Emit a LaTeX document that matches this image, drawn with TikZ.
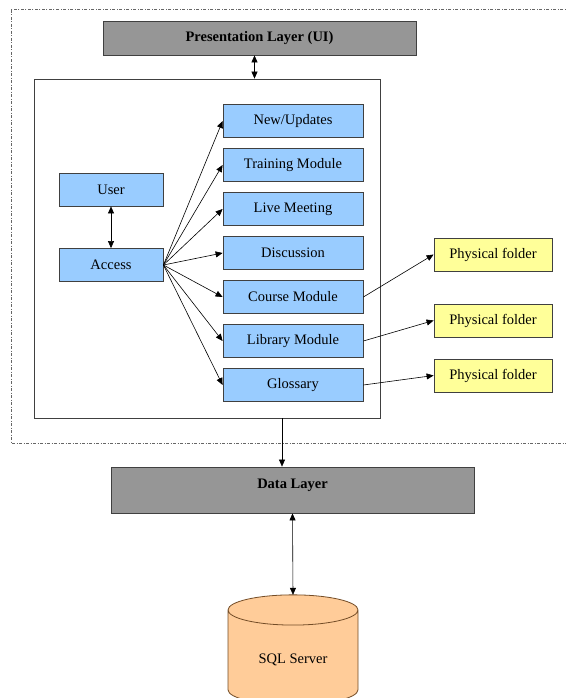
\documentclass[tikz,border=0pt]{standalone}
\usepackage{fontspec}
\setmainfont{Liberation Serif}
\usetikzlibrary{shapes.geometric,arrows.meta}
\definecolor{modblue}{HTML}{99CCFF}
\definecolor{folderyellow}{HTML}{FFFF99}
\definecolor{layergray}{HTML}{969696}
\definecolor{dbpeach}{HTML}{FFCC99}

\begin{document}
\begin{tikzpicture}[x=1pt,y=-1pt,>={Triangle[length=7pt,width=6pt]},semithick,node distance=44pt,
    box/.style={rectangle,draw=black!75,line width=0.8pt,font=\fontsize{14.5}{17}\selectfont},
    module/.style={box,fill=modblue,minimum width=140,minimum height=33},
    folder/.style={box,fill=folderyellow,minimum width=118,minimum height=33},
    layer/.style={box,fill=layergray,font=\fontsize{14.5}{17}\selectfont\bfseries}]

            \useasboundingbox (0,0) rectangle (565,698);

            % outer boundary
            \draw[black!60, dash pattern=on 3pt off 1.5pt on 1pt off 1.5pt] (570,9) -| (11,443) -- (570,443);

            \node[layer, minimum width=313, minimum height=34] (pl) at (259.5,38) {Presentation Layer (UI)};
            \node[draw=black!75, line width=0.8pt, minimum width=346, minimum height=339] (app) at (207,248.5) {};

            \node[module, minimum width=104] (user) at (111,189.5) {User};
            \node[module, minimum width=104] (access) at (111,265) {Access};

            \node[module] (m1) at (293,121) {New/Updates};
            \node[module] (m2) [below of = m1] {Training Module};
            \node[module] (m3) [below of = m2] {Live Meeting};
            \node[module] (m4) [below of = m3] {Discussion};
            \node[module] (m5) [below of = m4] {Course Module};
            \node[module] (m6) [below of = m5] {Library Module};
            \node[module] (m7) [below of = m6] {Glossary};

            \node[folder] (f1) at (493,254.5) {Physical folder};
            \node[folder] (f2) at (493,320.5) {Physical folder};
            \node[folder] (f3) at (493,375.5) {Physical folder};

            \node[layer, minimum width=363, minimum height=46, text height=10pt, text depth=14pt] (dl) at (292.5,490) {Data Layer};
            \node[cylinder, shape border rotate=90, aspect=0.4, draw=brown!60!black, line width=0.8pt, fill=dbpeach,
                  minimum width=130, minimum height=110, outer sep=0pt, font=\fontsize{14.5}{17}\selectfont] (sql) at (293,660) {SQL Server};

            \draw[<->] ([xshift=-5pt]pl.south) -- ([xshift=-5pt]pl.south |- app.north);
            \draw[<->] (user) -- (access);
            \draw[->] (access.east) to (m1.west);
            \draw[->] (access.east) to (m2.west);
            \draw[->] (access.east) to (m3.west);
            \draw[->] (access.east) to (m4.west);
            \draw[->] (access.east) to (m5.west);
            \draw[->] (access.east) to (m6.west);
            \draw[->] (access.east) to (m7.west);
            \draw[->] (m5.east) to (f1.west);
            \draw[->] (m6.east) to (f2.west);
            \draw[->] (m7.east) to (f3.west);
            \draw[->] ([xshift=75pt]app.south) -- ([xshift=-10.5pt]dl.north);
            \draw[<->] (dl.south) -- (sql.north);

            ;
\end{tikzpicture}
\end{document}
